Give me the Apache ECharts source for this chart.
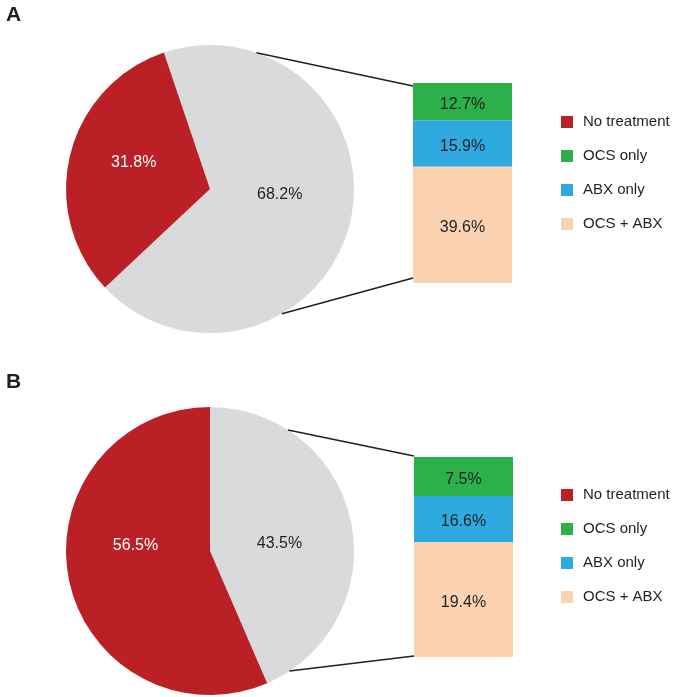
<!DOCTYPE html>
<html>
<head>
<meta charset="utf-8">
<script src="https://cdn.jsdelivr.net/npm/echarts@6/dist/echarts.min.js"></script>
<style>
html,body{margin:0;padding:0;background:#fff;}
#chart{width:679px;height:697px;}
</style>
</head>
<body>
<div id="chart"></div>
<script>
// ---------- data ----------
const panelLabels = ['A', 'B'];
const pieNames = ['Treated', 'No treatment'];
const pieA = [68.2, 31.8];
const pieB = [43.5, 56.5];
const barNames = ['OCS only', 'ABX only', 'OCS + ABX'];
const barA = [12.7, 15.9, 39.6];          // labelled values, panel A
const barB = [7.5, 16.6, 19.4];           // labelled values, panel B
const barADrawn = [12.7, 15.9, 39.6];     // segment sizes as drawn, panel A
const barBDrawn = [8.5, 10.0, 25.0];      // segment sizes as drawn (schematic), panel B
const legendNames = ['No treatment', 'OCS only', 'ABX only', 'OCS + ABX'];

// ---------- styles / layout ----------
const FONT = 'Liberation Sans, Arial, sans-serif';
const TXT = '#231F20';
const RED = '#BB2027', GREY = '#D9DADB';
const barColors = ['#2BB04A', '#2EAAE1', '#FBD3B3'];
const R = 144;
const panels = [
  { pie: pieA, bars: barA, drawn: barADrawn, center: [210, 189], start: 108.7,
    labelOff: [[-3, -12.5], [-3.5, -8]], grid: { left: 413, top: 83, width: 99, height: 200 },
    legendTop: 109.5, letterTop: 0,
    conn: [{ ang: 18.8, dy: 3 }, { ang: 150, dy: -5 }] },
  { pie: pieB, bars: barB, drawn: barBDrawn, center: [210, 551], start: 90,
    labelOff: [[-4, 8], [-1, -21]], grid: { left: 414, top: 457, width: 99, height: 200 },
    legendTop: 482.5, letterTop: 367,
    conn: [{ ang: 32.8, dy: -1 }, { ang: 146.5, dy: -1 }] }
];

const series = [], grids = [], xAxes = [], yAxes = [], legends = [], titles = [], graphics = [];
panels.forEach((p, i) => {
  series.push({
    type: 'pie', center: p.center, radius: R, startAngle: p.start, clockwise: true,
    silent: true, animation: false, labelLine: { show: false },
    data: p.pie.map((v, k) => ({
      name: pieNames[k], value: v,
      itemStyle: { color: k === 0 ? GREY : RED },
      label: { show: true, position: 'inside', offset: p.labelOff[k],
        formatter: v.toFixed(1) + '%', color: k === 0 ? TXT : '#fff',
        fontSize: 16, fontFamily: FONT }
    }))
  });
  grids.push(Object.assign({ containLabel: false }, p.grid));
  xAxes.push({ type: 'category', gridIndex: i, data: [''], show: false });
  const total = p.drawn.reduce((a, b) => a + b, 0);
  yAxes.push({ type: 'value', gridIndex: i, inverse: true, min: 0, max: total, show: false });
  barNames.forEach((n, k) => {
    series.push({
      type: 'bar', name: n, xAxisIndex: i, yAxisIndex: i, stack: 'st' + i,
      barWidth: '100%', silent: true, animation: false,
      itemStyle: { color: barColors[k] },
      label: { show: true, position: 'inside', offset: [0, 3], formatter: p.bars[k].toFixed(1) + '%',
        color: TXT, fontSize: 16, fontFamily: FONT },
      data: [p.drawn[k]]
    });
  });
  legends.push({
    data: legendNames, orient: 'vertical', left: 556, top: p.legendTop,
    itemWidth: 12, itemHeight: 12, itemGap: 19, icon: 'rect', selectedMode: false,
    textStyle: { fontSize: 15, fontFamily: FONT, color: TXT, padding: [0, 0, 0, 5] }
  });
  titles.push({ text: panelLabels[i], left: 1, top: p.letterTop,
    textStyle: { fontSize: 21, fontWeight: 'bold', fontFamily: FONT, color: TXT } });
  // connector lines from pie edge to bar stack corners
  p.conn.forEach((c, k) => {
    const a = c.ang * Math.PI / 180;
    const x1 = p.center[0] + R * Math.sin(a);
    const y1 = p.center[1] - R * Math.cos(a);
    const x2 = p.grid.left;
    const y2 = (k === 0 ? p.grid.top : p.grid.top + p.grid.height) + c.dy;
    graphics.push({ type: 'line', shape: { x1, y1, x2, y2 },
      style: { stroke: TXT, lineWidth: 1.5 }, z: 10 });
  });
});

const chart = echarts.init(document.getElementById('chart'), null, { renderer: 'canvas' });
chart.setOption({
  animation: false,
  backgroundColor: '#fff',
  title: titles,
  legend: legends,
  grid: grids,
  xAxis: xAxes,
  yAxis: yAxes,
  series: series,
  graphic: graphics
});
</script>
</body>
</html>
